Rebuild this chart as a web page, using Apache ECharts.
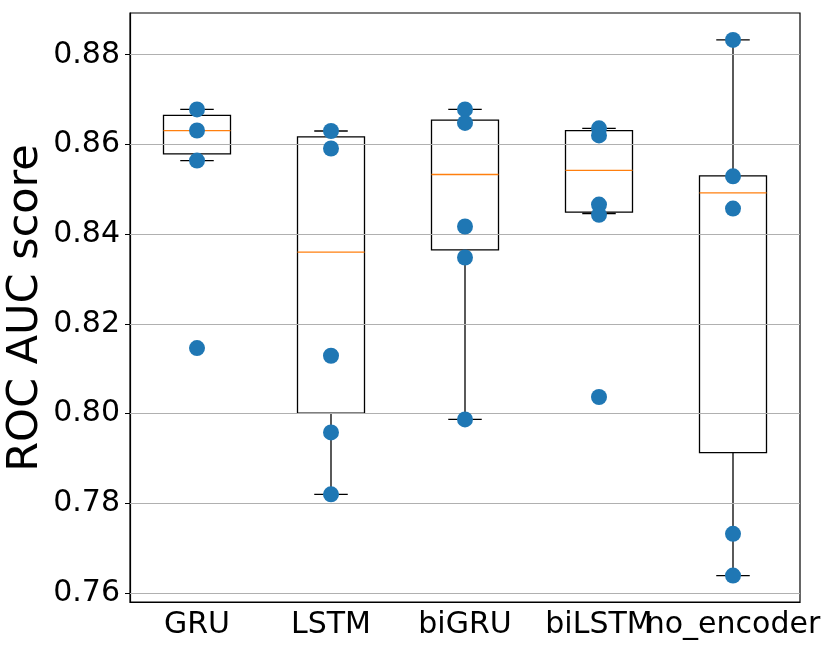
<!DOCTYPE html>
<html>
<head>
<meta charset="utf-8">
<script src="https://cdn.jsdelivr.net/npm/echarts@6/dist/echarts.min.js"></script>
<style>
  html, body { margin: 0; padding: 0; background: #fff; }
  #main { width: 830px; height: 649px; }
</style>
</head>
<body>
<div id="main"></div>
<script>
// models on the x axis
var categories = ['GRU', 'LSTM', 'biGRU', 'biLSTM', 'no_encoder'];

// box statistics: [whisker low, q1, median, q3, whisker high]
var boxGRU = [0.8564, 0.8579, 0.8631, 0.8665, 0.8678];
var boxLSTM = [0.7820, 0.8001, 0.8360, 0.8617, 0.8630];
var boxBiGRU = [0.7987, 0.8365, 0.8533, 0.8654, 0.8678];
var boxBiLSTM = [0.8446, 0.8449, 0.8542, 0.8631, 0.8636];
var boxNoEncoder = [0.7639, 0.7913, 0.8492, 0.8530, 0.8833];

// individual run scores (the blue dots)
var ptsGRU = [0.8678, 0.8631, 0.8564, 0.8146];
var ptsLSTM = [0.8630, 0.8591, 0.8129, 0.7958, 0.7820];
var ptsBiGRU = [0.8678, 0.8648, 0.8417, 0.8348, 0.7987];
var ptsBiLSTM = [0.8636, 0.8620, 0.8466, 0.8443, 0.8037];
var ptsNoEncoder = [0.8833, 0.8529, 0.8457, 0.7732, 0.7639];

// y tick labels
var yTicks = [0.76, 0.78, 0.80, 0.82, 0.84, 0.86, 0.88];
var yTitle = 'ROC AUC score';

var boxes = [boxGRU, boxLSTM, boxBiGRU, boxBiLSTM, boxNoEncoder];
var points = [ptsGRU, ptsLSTM, ptsBiGRU, ptsBiLSTM, ptsNoEncoder];

var boxData = boxes.map(function (b, i) { return [i].concat(b); });
var dotData = [];
points.forEach(function (p, i) {
    p.forEach(function (v) { dotData.push([i, v]); });
});

var chart = echarts.init(document.getElementById('main'));
var font = 'DejaVu Sans';

chart.setOption({
    animation: false,
    grid: {
        left: 130, right: 30, top: 13, bottom: 47,
        outerBoundsMode: 'none', containLabel: false,
        show: true, borderColor: '#000', borderWidth: 1.2
    },
    // y axis title drawn as rotated text so it sits where the original one does
    graphic: [{
        type: 'text',
        x: 26,
        y: 308,
        rotation: Math.PI / 2,
        style: {
            text: yTitle,
            fill: '#000',
            font: '43px "DejaVu Sans"',
            textAlign: 'center',
            textVerticalAlign: 'middle'
        }
    }],
    xAxis: {
        type: 'category',
        data: categories,
        axisLine: { lineStyle: { color: '#000', width: 1.2 } },
        axisTick: { alignWithLabel: true, length: 5, lineStyle: { color: '#000' } },
        axisLabel: {
            color: '#000', fontSize: 30, fontFamily: font, margin: 8,
            interval: 0, hideOverlap: false
        },
        splitLine: { show: false }
    },
    yAxis: {
        type: 'value',
        min: 0.758,
        max: 0.8893,
        axisLine: { show: true, lineStyle: { color: '#000', width: 1.2 } },
        axisTick: { show: true, length: 5, customValues: yTicks, lineStyle: { color: '#000' } },
        axisLabel: {
            color: '#000', fontSize: 30, fontFamily: font, margin: 10,
            customValues: yTicks,
            formatter: function (v) { return v.toFixed(2); }
        },
        splitLine: { show: false }
    },
    series: [
        {
            // horizontal grid lines at the y ticks
            type: 'line',
            data: [],
            silent: true,
            markLine: {
                symbol: 'none',
                label: { show: false },
                lineStyle: { color: '#b0b0b0', width: 1, type: 'solid' },
                data: yTicks.map(function (t) { return { yAxis: t }; })
            }
        },
        {
            type: 'custom',
            data: boxData,
            encode: { x: 0, y: [1, 2, 3, 4, 5] },
            z: 3,
            renderItem: function (params, api) {
                var x = api.value(0);
                var band = api.size([1, 0])[0];
                var hw = band * 0.25;
                var cw = band * 0.125;
                var lo = api.coord([x, api.value(1)]);
                var q1 = api.coord([x, api.value(2)]);
                var md = api.coord([x, api.value(3)]);
                var q3 = api.coord([x, api.value(4)]);
                var hi = api.coord([x, api.value(5)]);
                var cx = lo[0];
                var ls = { stroke: '#000', lineWidth: 1.3, fill: null };
                return {
                    type: 'group',
                    children: [
                        { type: 'line', shape: { x1: cx, y1: q1[1], x2: cx, y2: lo[1] }, style: ls },
                        { type: 'line', shape: { x1: cx, y1: q3[1], x2: cx, y2: hi[1] }, style: ls },
                        { type: 'line', shape: { x1: cx - cw, y1: lo[1], x2: cx + cw, y2: lo[1] }, style: ls },
                        { type: 'line', shape: { x1: cx - cw, y1: hi[1], x2: cx + cw, y2: hi[1] }, style: ls },
                        { type: 'rect', shape: { x: cx - hw, y: q3[1], width: hw * 2, height: q1[1] - q3[1] }, style: ls },
                        { type: 'line', shape: { x1: cx - hw, y1: md[1], x2: cx + hw, y2: md[1] },
                          style: { stroke: '#ff7f0e', lineWidth: 1.3 } }
                    ]
                };
            }
        },
        {
            type: 'scatter',
            data: dotData,
            symbolSize: 16,
            z: 5,
            itemStyle: { color: '#1f77b4', opacity: 1 }
        }
    ]
});
</script>
</body>
</html>
